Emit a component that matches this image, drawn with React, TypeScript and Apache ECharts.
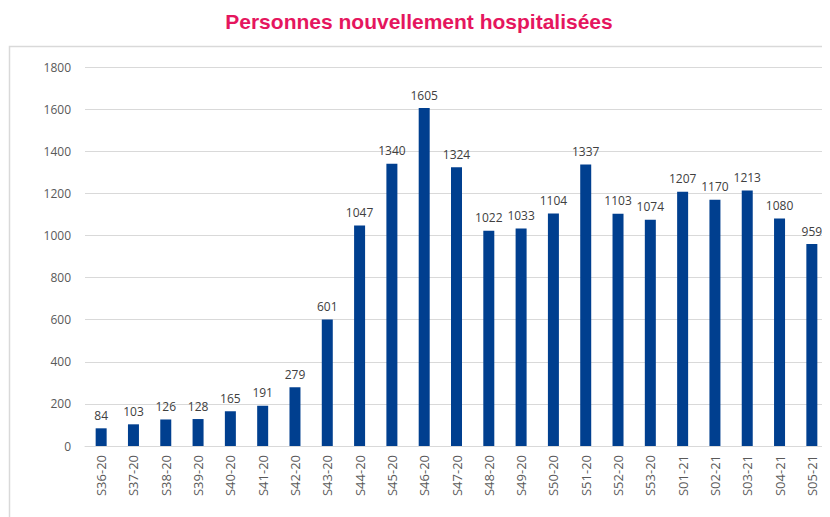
import React, { useEffect, useRef } from "react";
import * as echarts from "echarts";

const categories = ["S36-20","S37-20","S38-20","S39-20","S40-20","S41-20","S42-20","S43-20","S44-20","S45-20","S46-20","S47-20","S48-20","S49-20","S50-20","S51-20","S52-20","S53-20","S01-21","S02-21","S03-21","S04-21","S05-21"];
const values = [84,103,126,128,165,191,279,601,1047,1340,1605,1324,1022,1033,1104,1337,1103,1074,1207,1170,1213,1080,959];
const yTicks = { min: 0, max: 1800, interval: 200 };
const title = "Personnes nouvellement hospitalisées";

const labelFont = "Open Sans, Liberation Sans, sans-serif";

export default function App() {
  const ref = useRef<HTMLDivElement>(null);
  useEffect(() => {
    const chart = echarts.init(ref.current!, null, { renderer: "svg" });
    chart.setOption({
      animation: false,
      backgroundColor: "#ffffff",
      title: {
        text: title,
        left: "center",
        top: -2,
        textStyle: { color: "#E5165E", fontSize: 21, fontWeight: "bold", fontFamily: "Liberation Sans, Arial, sans-serif" },
      },
      graphic: [
        { type: "rect", shape: { x: 1.5, y: 38.5, width: 840, height: 500 }, style: { fill: "none", stroke: "#d9d9d9", lineWidth: 1.5 }, silent: true },
      ],
      grid: { left: 77, right: 2, top: 59, bottom: 71, containLabel: false },
      xAxis: {
        type: "category",
        data: categories,
        axisTick: { show: false },
        axisLine: { lineStyle: { color: "#d9d9d9" } },
        axisLabel: { rotate: 90, color: "#595959", fontSize: 13, fontFamily: labelFont, margin: 9 },
      },
      yAxis: {
        type: "value",
        min: yTicks.min,
        max: yTicks.max,
        interval: yTicks.interval,
        axisLine: { show: false },
        axisTick: { show: false },
        splitLine: { lineStyle: { color: "#d9d9d9" } },
        axisLabel: { color: "#595959", fontSize: 12, fontFamily: labelFont, margin: 14, formatter: (v: number) => String(v) },
      },
      series: [
        {
          type: "bar",
          data: values,
          barWidth: 11,
          itemStyle: { color: "#003F8F" },
          label: { show: true, position: "top", distance: 7, color: "#404040", fontSize: 12, fontFamily: labelFont },
        },
      ],
    });
    return () => chart.dispose();
  }, []);
  return <div ref={ref} style={{ width: 822, height: 509 }} />;
}
